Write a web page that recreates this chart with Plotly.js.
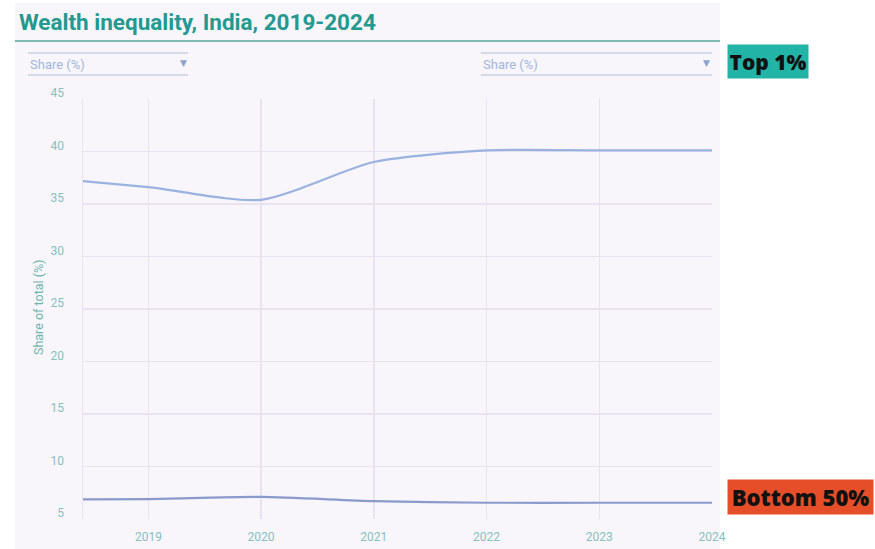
<!DOCTYPE html>
<html>
<head>
<meta charset="utf-8">
<script src="https://cdn.plot.ly/plotly-3.0.1.min.js"></script>
<style>
html,body{margin:0;padding:0;background:#ffffff;}
#chart{width:875px;height:549px;}
</style>
</head>
<body>
<div id="chart"></div>
<script>
// ---- data ----
const years = [2018, 2019, 2020, 2021, 2022, 2023, 2024];
const top1Share = [37.6, 36.6, 35.4, 39.0, 40.1, 40.1, 40.1];
const bottom50Share = [6.85, 6.9, 7.1, 6.7, 6.55, 6.55, 6.55];
const xTickVals = [2019, 2020, 2021, 2022, 2023, 2024];
const xTickText = ['2019', '2020', '2021', '2022', '2023', '2024'];
const yTickVals = [5, 10, 15, 20, 25, 30, 35, 40, 45];
const chartTitle = 'Wealth inequality, India, 2019-2024';
const yTitle = 'Share of total (%)';
const dropdownText = 'Share (%)';
const label1 = 'Top 1%';
const label2 = 'Bottom 50%';

// ---- layout geometry (pixels) ----
const W = 875, H = 549;
const L = 83, R = 712, T = 99, B = 519;
const px = x => (x - L) / (R - L);
const py = y => (B - y) / (B - T);

const teal = '#23998f';
const tickCol = '#86c1bd';
const gridCol = '#e9e3f0';

const traces = [
  {x: years, y: top1Share, type: 'scatter', mode: 'lines',
   line: {color: '#9ab2df', width: 2.2, shape: 'spline', smoothing: 0.7}, hoverinfo: 'x+y', name: label1},
  {x: years, y: bottom50Share, type: 'scatter', mode: 'lines',
   line: {color: '#8a9bcb', width: 2.2, shape: 'spline', smoothing: 0.7}, hoverinfo: 'x+y', name: label2}
];

const shapes = [
  {type: 'rect', xref: 'paper', yref: 'paper', x0: px(15), x1: px(720), y0: py(549), y1: py(3),
   fillcolor: '#f8f5fb', line: {width: 0}, layer: 'below'},
  {type: 'line', xref: 'paper', yref: 'paper', x0: px(15), x1: px(720), y0: py(41), y1: py(41),
   line: {color: '#7fb9b2', width: 2}},
  {type: 'line', xref: 'paper', yref: 'paper', x0: px(28), x1: px(188), y0: py(53), y1: py(53),
   line: {color: '#c9d2e2', width: 1.5}},
  {type: 'line', xref: 'paper', yref: 'paper', x0: px(28), x1: px(188), y0: py(75), y1: py(75),
   line: {color: '#c9d2e2', width: 1.5}},
  {type: 'line', xref: 'paper', yref: 'paper', x0: px(481), x1: px(712), y0: py(53), y1: py(53),
   line: {color: '#c9d2e2', width: 1.5}},
  {type: 'line', xref: 'paper', yref: 'paper', x0: px(481), x1: px(712), y0: py(75), y1: py(75),
   line: {color: '#c9d2e2', width: 1.5}}
];

const annotations = [
  {text: '<b>' + chartTitle + '</b>', xref: 'paper', yref: 'paper', x: px(17), y: py(22),
   xanchor: 'left', yanchor: 'middle', showarrow: false,
   font: {family: 'Roboto, sans-serif', size: 22.5, color: teal}},
  {text: dropdownText, xref: 'paper', yref: 'paper', x: px(28), y: py(64),
   xanchor: 'left', yanchor: 'middle', showarrow: false,
   font: {family: 'Roboto, sans-serif', size: 13, color: '#a3b6da'}},
  {text: '▼', xref: 'paper', yref: 'paper', x: px(183), y: py(63),
   xanchor: 'center', yanchor: 'middle', showarrow: false,
   font: {family: 'DejaVu Sans, sans-serif', size: 9, color: '#8ea3cc'}},
  {text: dropdownText, xref: 'paper', yref: 'paper', x: px(481), y: py(64),
   xanchor: 'left', yanchor: 'middle', showarrow: false,
   font: {family: 'Roboto, sans-serif', size: 13, color: '#a3b6da'}},
  {text: '▼', xref: 'paper', yref: 'paper', x: px(706), y: py(63),
   xanchor: 'center', yanchor: 'middle', showarrow: false,
   font: {family: 'DejaVu Sans, sans-serif', size: 9, color: '#8ea3cc'}},
  {text: yTitle, xref: 'paper', yref: 'paper', x: px(38), y: py(308),
   xanchor: 'center', yanchor: 'middle', textangle: -90, showarrow: false,
   font: {family: 'Roboto, sans-serif', size: 12.5, color: '#6fb5ae'}},
  {text: label1, xref: 'paper', yref: 'paper', x: px(727), y: py(61.5),
   xanchor: 'left', yanchor: 'middle', showarrow: false,
   width: 76, height: 29, borderpad: 2, bgcolor: '#22b4a6', align: 'center',
   font: {family: 'Open Sans, sans-serif', size: 21, weight: 800, color: '#111111'}},
  {text: label2, xref: 'paper', yref: 'paper', x: px(727), y: py(497),
   xanchor: 'left', yanchor: 'middle', showarrow: false,
   width: 141, height: 30, borderpad: 2, bgcolor: '#e54e28', align: 'center',
   font: {family: 'Open Sans, sans-serif', size: 22, weight: 800, color: '#111111'}}
];

const layout = {
  width: W, height: H,
  margin: {l: L, r: W - R, t: T, b: H - B, pad: 0},
  paper_bgcolor: '#ffffff',
  plot_bgcolor: '#f8f5fb',
  showlegend: false,
  font: {family: 'Roboto, sans-serif'},
  xaxis: {
    range: [2018.42, 2024], tickvals: xTickVals, ticktext: xTickText,
    showgrid: true, gridcolor: gridCol, gridwidth: 1.5, zeroline: false,
    showline: false, ticks: '', ticklabelstandoff: 9,
    tickfont: {family: 'Roboto, sans-serif', size: 12, color: tickCol}
  },
  yaxis: {
    range: [5, 45], tickvals: yTickVals,
    showgrid: true, gridcolor: gridCol, gridwidth: 1.5, zeroline: false,
    showline: true, linecolor: gridCol, linewidth: 1.5,
    ticks: '', ticklabelstandoff: 15, ticklabelshift: -6,
    tickfont: {family: 'Roboto, sans-serif', size: 12, color: tickCol}
  },
  shapes: shapes,
  annotations: annotations
};

Plotly.newPlot('chart', traces, layout, {displayModeBar: false, staticPlot: true});
</script>
</body>
</html>
